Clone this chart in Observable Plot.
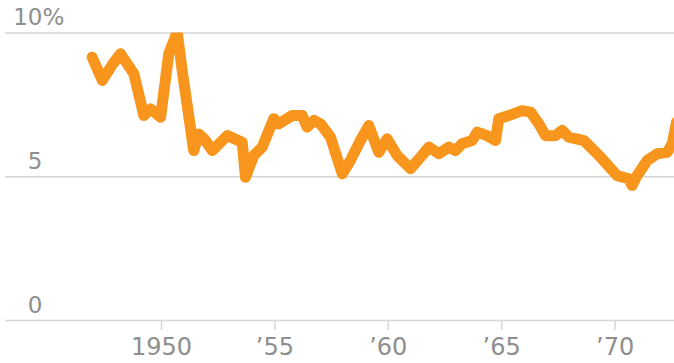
<!DOCTYPE html>
<html>
<head>
<meta charset="utf-8">
<script src="https://cdn.jsdelivr.net/npm/d3@7"></script>
<script src="https://cdn.jsdelivr.net/npm/@observablehq/plot@0.6"></script>
<style>
  html, body { margin: 0; padding: 0; background: #fff; }
  #chart svg { display: block; }
</style>
</head>
<body>
<div id="chart"></div>
<script>
// Time (decimal years) and rate (%)
const years = [
  1946.94, 1947.39, 1947.83, 1948.19, 1948.78, 1949.22, 1949.52, 1949.96,
  1950.32, 1950.69, 1950.91, 1951.42, 1951.64, 1951.90, 1952.24, 1952.90,
  1953.56, 1953.70, 1954.07, 1954.44, 1954.95, 1955.17, 1955.76, 1956.20,
  1956.42, 1956.72, 1957.01, 1957.45, 1957.97, 1958.33, 1958.77, 1959.14,
  1959.58, 1959.95, 1960.39, 1960.98, 1961.42, 1961.79, 1962.23, 1962.67,
  1962.96, 1963.26, 1963.70, 1963.92, 1964.36, 1964.73, 1964.87, 1965.31,
  1965.90, 1966.27, 1966.64, 1966.93, 1967.37, 1967.67, 1967.96, 1968.62,
  1969.36, 1970.09, 1970.60, 1970.75, 1970.97, 1971.42, 1971.86, 1972.30,
  1972.52, 1972.71
];
const rates = [
  9.16, 8.35, 8.90, 9.28, 8.58, 7.13, 7.36, 7.07,
  9.28, 10.03, 8.70, 5.91, 6.49, 6.30, 5.91, 6.43,
  6.20, 4.98, 5.74, 6.03, 7.02, 6.84, 7.13, 7.13,
  6.73, 6.96, 6.84, 6.38, 5.10, 5.57, 6.26, 6.78,
  5.85, 6.32, 5.74, 5.28, 5.68, 6.03, 5.80, 6.03,
  5.91, 6.15, 6.26, 6.55, 6.43, 6.26, 7.02, 7.13,
  7.30, 7.25, 6.84, 6.43, 6.43, 6.61, 6.38, 6.26,
  5.68, 5.04, 4.93, 4.70, 5.04, 5.57, 5.80, 5.85,
  6.15, 6.90
];
const yTicks = [0, 5, 10];
const xTicks = [1950, 1955, 1960, 1965, 1970];
const xTickLabel = d => d === 1950 ? "1950" : "\u2019" + String(d).slice(2);

const data = years.map((y, i) => ({year: y, rate: rates[i]}));

const font = "DejaVu Sans, sans-serif";
const textColor = "#8e8e8e";
const chart = Plot.plot({
  width: 674,
  height: 363,
  marginLeft: 5,
  marginRight: 0,
  marginTop: 32.5,
  marginBottom: 43,
  style: {fontFamily: font, background: "#fff", color: textColor},
  x: {domain: [1943.12, 1972.62], axis: null},
  y: {domain: [0, 10], axis: null},
  marks: [
    Plot.ruleY(yTicks, {stroke: "#d6d6d6", strokeWidth: 1.5}),
    Plot.axisX({
      ticks: xTicks,
      tickFormat: xTickLabel,
      tickSize: 10,
      tickPadding: 7,
      stroke: "#d6d6d6",
      strokeWidth: 1.5,
      fill: textColor,
      fontSize: 24,
      label: null
    }),
    Plot.text(yTicks, {
      y: d => d,
      text: d => String(d),
      frameAnchor: "left",
      dx: 37,
      dy: -8,
      textAnchor: "end",
      lineAnchor: "bottom",
      fill: textColor,
      fontSize: 23
    }),
    Plot.text([10], {
      y: d => d,
      text: () => "%",
      frameAnchor: "left",
      dx: 37,
      dy: -8,
      textAnchor: "start",
      lineAnchor: "bottom",
      fill: textColor,
      fontSize: 23
    }),
    Plot.line(data, {
      x: "year",
      y: "rate",
      stroke: "#f8951d",
      strokeWidth: 11,
      strokeLinejoin: "round",
      strokeLinecap: "round",
      clip: true
    })
  ]
});
document.getElementById("chart").append(chart);
</script>
</body>
</html>
